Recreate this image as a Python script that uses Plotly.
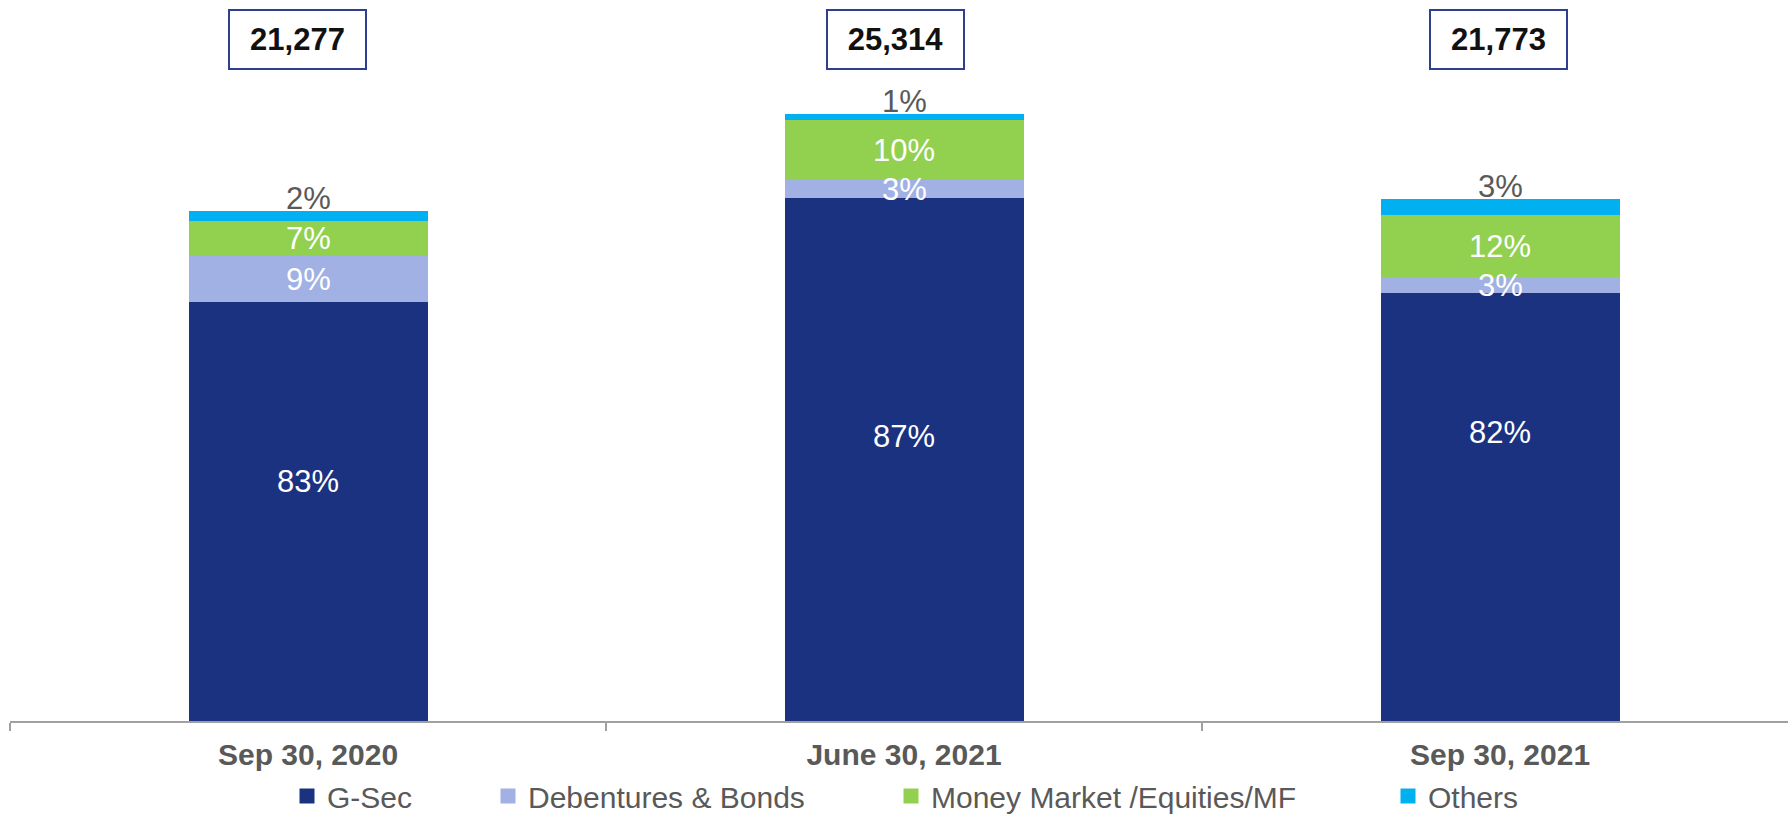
import plotly.graph_objects as go

# Investment portfolio mix by reporting date (Rs. crore totals, % shares)
periods = ["Sep 30, 2020", "June 30, 2021", "Sep 30, 2021"]
totals = [21277, 25314, 21773]

series_names = ["G-Sec", "Debentures & Bonds", "Money Market /Equities/MF", "Others"]
gsec_pct = [83, 87, 82]
debentures_pct = [9, 3, 3]
money_market_pct = [7, 10, 12]
others_pct = [2, 1, 3]

series_pcts = [gsec_pct, debentures_pct, money_market_pct, others_pct]
series_colors = ["#1B3281", "#A1B1E3", "#92D050", "#00B0F0"]

FONT = "Liberation Sans, Arial, sans-serif"
GREY = "#595959"

W, H = 1788, 815
M_L, M_B = 10, 94
plot_w = W - M_L
plot_h = H - M_B
cat_px = 596.0          # width of one category slot in pixels
px_per_unit = 0.023967  # vertical scale

# segment values: each total split by its (rounded) percentage shares
share_sums = [sum(p[i] for p in series_pcts) for i in range(len(periods))]
series_vals = [[totals[i] * p[i] / share_sums[i] for i in range(len(periods))]
               for p in series_pcts]

fig = go.Figure()
legend_ids = ["legend", "legend2", "legend3", "legend4"]
for name, vals, color, lg in zip(series_names, series_vals, series_colors, legend_ids):
    fig.add_trace(go.Bar(
        x=periods, y=vals, name=name,
        marker=dict(color=color, line=dict(width=0)),
        width=0.401, showlegend=False, hoverinfo="skip",
    ))
    # square swatch used as the legend key
    fig.add_trace(go.Scatter(
        x=[None], y=[None], mode="markers", name=name,
        marker=dict(symbol="square", size=15, color=color),
        legend=lg, showlegend=True, hoverinfo="skip",
    ))

annotations = []
# per-label vertical nudges (px) for the G-Sec labels
gsec_nudge = [30, 23, 75]
# horizontal offsets (px) of the total boxes
box_xshift = [-11, -9, -2]
for i, period in enumerate(periods):
    base = 0.0
    for s, (vals, pcts) in enumerate(zip(series_vals, series_pcts)):
        v = vals[i]
        if s < 3:
            annotations.append(dict(
                x=period, y=base + v / 2, xref="x", yref="y",
                text=f"{pcts[i]}%", showarrow=False, yanchor="middle",
                font=dict(family=FONT, size=31, color="white"),
                yshift=gsec_nudge[i] if s == 0 else 0,
            ))
        else:
            annotations.append(dict(
                x=period, y=base + v, xref="x", yref="y",
                text=f"{pcts[i]}%", showarrow=False, yanchor="bottom",
                font=dict(family=FONT, size=31, color=GREY),
                yshift=-7,
            ))
        base += v
    # boxed total above each column
    annotations.append(dict(
        x=period, y=1 - 40 / plot_h, xref="x", yref="paper",
        xanchor="center", yanchor="middle", xshift=box_xshift[i],
        text=f"<b>{totals[i]:,}</b>", showarrow=False,
        font=dict(family=FONT, size=31, color="#111111"),
        width=135, height=57, borderpad=0,
        bordercolor="#2E3F8F", borderwidth=2, bgcolor="white",
    ))

# legend entries laid out individually along the bottom
legend_marker_px = [309, 510, 913, 1410]
legend_layouts = {}
for lg, mx in zip(legend_ids, legend_marker_px):
    legend_layouts[lg] = dict(
        x=(mx - 22) / W, xref="container", xanchor="left",
        y=1 - 796 / H, yref="container", yanchor="middle",
        orientation="h", bgcolor="rgba(0,0,0,0)",
        font=dict(family=FONT, size=30, color=GREY),
        itemwidth=30,
    )

fig.update_layout(
    width=W, height=H,
    margin=dict(l=M_L, r=0, t=0, b=M_B, autoexpand=False),
    paper_bgcolor="white", plot_bgcolor="white",
    barmode="stack", bargap=0,
    showlegend=True,
    annotations=annotations,
    xaxis=dict(
        type="category",
        range=[-0.5, -0.5 + plot_w / cat_px],
        showline=True, linecolor="#A0A0A0", linewidth=2,
        ticks="outside", tickson="boundaries", ticklen=8,
        tickcolor="#A0A0A0", tickwidth=2,
        ticklabelstandoff=6,
        tickfont=dict(family=FONT, size=30, color=GREY, weight="bold"),
        showgrid=False, zeroline=False, fixedrange=True,
    ),
    yaxis=dict(
        range=[0, plot_h / px_per_unit],
        visible=False, showgrid=False, zeroline=False, fixedrange=True,
    ),
    **legend_layouts,
)

fig.write_html("out.html", config={"displayModeBar": False})
